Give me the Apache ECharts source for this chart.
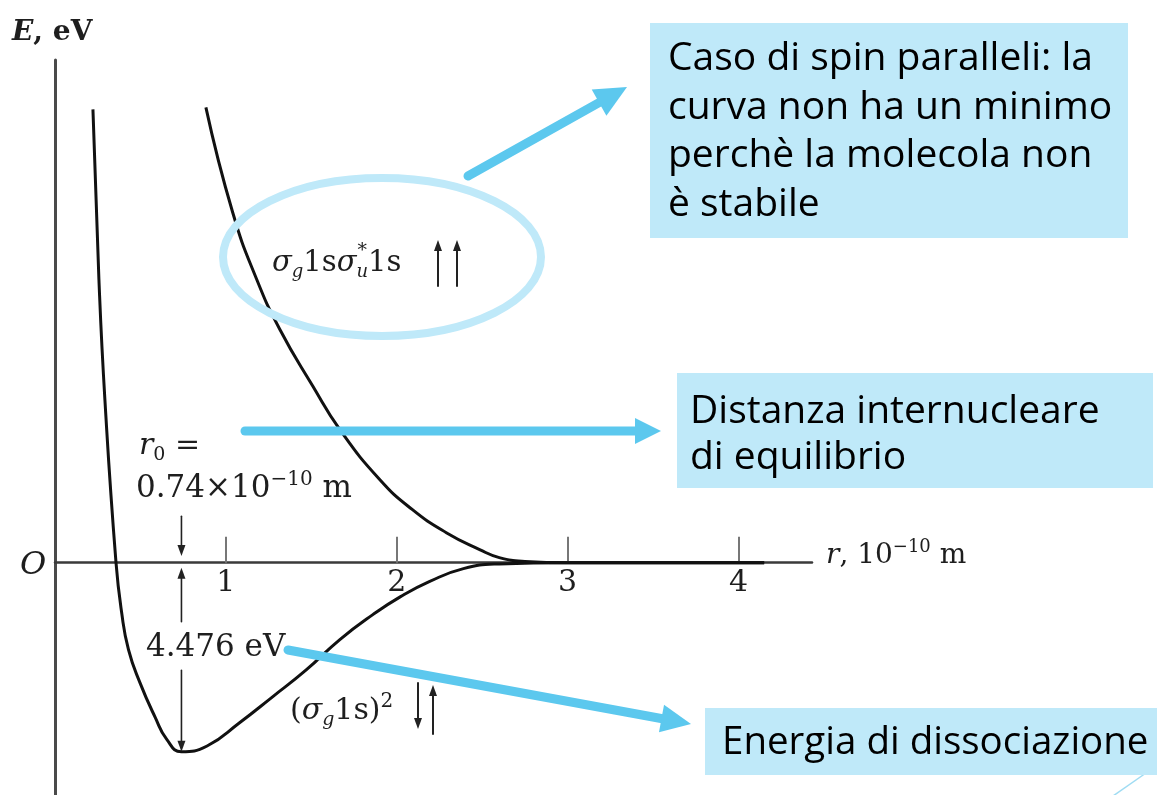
<!DOCTYPE html>
<html>
<head>
<meta charset="utf-8">
<script src="https://cdn.jsdelivr.net/npm/echarts@6/dist/echarts.min.js"></script>
<style>
  html, body { margin: 0; padding: 0; background: #ffffff; }
  #chart { width: 1157px; height: 795px; }
</style>
</head>
<body>
<div id="chart"></div>
<script>
// H2 potential energy E (eV) against internuclear distance r (1e-10 m)
const xTicks = [1, 2, 3, 4];
const xTickLabels = ['1', '2', '3', '4'];

// bonding state (σg1s)², antiparallel spins
const bondR = [0.222, 0.257, 0.292, 0.357, 0.39, 0.43, 0.497, 0.585, 0.655, 0.74, 0.89, 1.08, 1.275, 1.47, 1.667, 1.86, 2.02, 2.19, 2.39, 2.6, 3.0, 3.5, 4.15];
const bondE = [10.73, 6.71, 3.86, 0, -1.18, -2.06, -2.84, -3.65, -4.19, -4.476, -4.34, -3.79, -3.17, -2.54, -1.82, -1.23, -0.81, -0.45, -0.14, -0.03, 0, 0, 0];

// antibonding state σg1sσu*1s, parallel spins
const antiR = [0.883, 1.04, 1.18, 1.316, 1.51, 1.667, 1.90, 2.09, 2.29, 2.485, 2.6, 2.75, 3.0, 3.5, 4.15];
const antiE = [10.78, 8.29, 6.71, 5.52, 4.17, 3.15, 1.97, 1.26, 0.71, 0.31, 0.12, 0.03, 0, 0, 0];

const r0 = 0.74;                  // equilibrium distance
const dissociationEnergy = 4.476; // eV

const SERIF = "'DejaVu Serif', 'Liberation Serif', serif";
const SANS = "'Open Sans', 'Noto Sans', sans-serif";
const INK = '#1e1e1e';
const CALLOUT = '#5cc8ee';
const PALE = '#bfe9f9';

const chart = echarts.init(document.getElementById('chart'), null, { renderer: 'canvas' });

const pairs = (xs, ys) => xs.map((x, i) => [x, ys[i]]);

chart.setOption({
  backgroundColor: '#ffffff',
  animation: false,
  grid: { left: 55, top: 60, width: 757, height: 735, containLabel: false, outerBoundsMode: 'none' },
  xAxis: {
    type: 'value', min: 0, max: 4.43,
    axisLine: { onZero: true, lineStyle: { color: '#3a3a3a', width: 2.5 } },
    axisTick: { show: true, inside: true, length: 26, customValues: xTicks, lineStyle: { color: '#777', width: 2 } },
    axisLabel: { show: false },
    splitLine: { show: false }
  },
  yAxis: {
    type: 'value', min: -5.5, max: 11.9,
    axisLine: { show: true, lineStyle: { color: '#4a4a4a', width: 3 } },
    axisTick: { show: false },
    axisLabel: { show: false },
    splitLine: { show: false }
  },
  series: [
    {
      name: '(σg1s)²', type: 'line', data: pairs(bondR, bondE),
      smooth: 0.5, showSymbol: false, z: 3,
      lineStyle: { color: '#111', width: 3 }
    },
    {
      name: 'σg1sσu*1s', type: 'line', data: pairs(antiR, antiE),
      smooth: 0.5, showSymbol: false, z: 3,
      lineStyle: { color: '#111', width: 3 }
    }
  ]
});

// ---- annotation helpers ----
function arrow(x1, y1, x2, y2, width, headL, headW, color, z) {
  const dx = x2 - x1, dy = y2 - y1, L = Math.hypot(dx, dy);
  const ux = dx / L, uy = dy / L, px = -uy, py = ux;
  const bx = x2 - ux * headL, by = y2 - uy * headL;
  return [
    { type: 'line', z: z, shape: { x1: x1, y1: y1, x2: bx + ux, y2: by + uy },
      style: { stroke: color, lineWidth: width, lineCap: 'round' } },
    { type: 'polygon', z: z, shape: { points: [[x2, y2], [bx + px * headW / 2, by + py * headW / 2], [bx - px * headW / 2, by - py * headW / 2]] },
      style: { fill: color } }
  ];
}

function label(x, y, text, rich, align, z) {
  return {
    type: 'text', z: z || 20, x: x, y: y,
    style: { text: text, rich: rich, align: align || 'left', verticalAlign: 'middle', fill: INK, font: '28px ' + SERIF }
  };
}

function richSet(size) {
  return {
    n: { fontFamily: SERIF, fontSize: size, lineHeight: size * 1.25, fill: INK },
    b: { fontFamily: SERIF, fontSize: size, fontWeight: 'bold', lineHeight: size * 1.25, fill: INK },
    bi: { fontFamily: SERIF, fontSize: size, fontWeight: 'bold', fontStyle: 'italic', lineHeight: size * 1.25, fill: INK },
    i: { fontFamily: SERIF, fontSize: size, fontStyle: 'italic', lineHeight: size * 1.25, fill: INK },
    sub: { fontFamily: SERIF, fontSize: Math.round(size * 0.62), fontStyle: 'italic', verticalAlign: 'bottom', fill: INK },
    subn: { fontFamily: SERIF, fontSize: Math.round(size * 0.62), verticalAlign: 'bottom', fill: INK },
    sup: { fontFamily: SERIF, fontSize: Math.round(size * 0.66), verticalAlign: 'top', fill: INK }
  };
}

const measureCtx = document.createElement('canvas').getContext('2d');
function textWidth(str, font) {
  measureCtx.font = font;
  return measureCtx.measureText(str).width;
}

function callout(x, y, w, h, lines, tx, firstY, lh, size) {
  return [
    { type: 'rect', z: 30, shape: { x: x, y: y, width: w, height: h }, style: { fill: PALE } },
    { type: 'text', z: 31, x: tx, y: firstY - lh / 2,
      style: { text: lines.join('\n'), fill: '#000', font: size + 'px ' + SANS, lineHeight: lh, verticalAlign: 'top', align: 'left' } }
  ];
}

function drawAnnotations() {
  const px = (r, e) => chart.convertToPixel({ gridIndex: 0 }, [r, e]);
  const g = [];

  // tick labels under the r axis
  xTicks.forEach((t, i) => {
    const p = px(t, 0);
    g.push({ type: 'text', z: 20, x: p[0], y: p[1] + 21,
             style: { text: xTickLabels[i], font: '30px ' + SERIF, fill: INK, align: 'center', verticalAlign: 'middle' } });
  });

  // r0 marker arrows and depth of the well
  const xr = px(r0, 0)[0];
  const yTopA = px(r0, 1.1)[1], yAxisAbove = px(r0, 0.16)[1];
  const yBelowAxis = px(r0, -0.12)[1], yUpStart = px(r0, -1.4)[1];
  const yDownStart = px(r0, -2.55)[1], yMin = px(r0, -dissociationEnergy)[1];
  g.push(...arrow(xr, yTopA, xr, yAxisAbove, 1.6, 11, 8, '#222', 20));
  g.push(...arrow(xr, yUpStart, xr, yBelowAxis, 1.6, 11, 8, '#222', 20));
  g.push(...arrow(xr, yDownStart, xr, yMin, 1.6, 11, 8, '#222', 20));

  // axis titles
  g.push(label(12, 33, '{bi|E}{b|, eV}', richSet(28)));
  g.push(label(20, 566, '{i|O}', richSet(32)));
  g.push(label(826, 556, '{i|r}{n|, 10}{sup|−10}{n| m}', richSet(28)));

  // r0 and depth labels
  g.push(label(139, 446, '{i|r}{subn|0}{n| =}', richSet(30)));
  g.push(label(136, 489, '{n|0.74×10}{sup|−10}{n| m}', richSet(31)));
  g.push(label(146, 648, '{n|' + dissociationEnergy.toFixed(3) + ' eV}', richSet(31)));

  // antibonding label: σg 1s σ(*,u) 1s with the star stacked over the u
  const rs = richSet(29);
  const xs = 272, ys = 263;
  g.push(label(xs, ys, '{i|σ}{sub|g}{n|1s}{i|σ}{sub|u}{n|1s}', rs));
  const wBefore = textWidth('σ', 'italic 29px ' + SERIF) + textWidth('g', 'italic 18px ' + SERIF)
                + textWidth('1s', '29px ' + SERIF) + textWidth('σ', 'italic 29px ' + SERIF);
  g.push({ type: 'text', z: 20, x: xs + wBefore + 1, y: ys - 12,
           style: { text: '*', font: '19px ' + SERIF, fill: INK, align: 'left', verticalAlign: 'middle' } });
  g.push(...arrow(438, 286, 438, 240, 2, 11, 8, '#222', 20));
  g.push(...arrow(457, 286, 457, 240, 2, 11, 8, '#222', 20));

  g.push(label(290, 711, '{n|(}{i|σ}{sub|g}{n|1s)}{sup|2}', richSet(30)));
  g.push(...arrow(418, 683, 418, 729, 2, 11, 8, '#222', 20));
  g.push(...arrow(433, 734, 433, 685, 2, 11, 8, '#222', 20));

  // highlight ring around the antibonding label
  g.push({ type: 'ellipse', z: 25, shape: { cx: 382, cy: 257, rx: 159, ry: 79 },
           style: { fill: 'none', stroke: PALE, lineWidth: 8 } });

  // callout arrows
  g.push(...arrow(468, 176, 627, 87, 9, 32, 30, CALLOUT, 26));
  g.push(...arrow(245, 431, 661, 431, 9, 26, 26, CALLOUT, 26));
  g.push(...arrow(288, 650, 691, 724, 9, 30, 28, CALLOUT, 26));
  g.push({ type: 'line', z: 26, shape: { x1: 1113, y1: 796, x2: 1146, y2: 773 },
           style: { stroke: '#9fdcf3', lineWidth: 1.5 } });

  // callout boxes
  g.push(...callout(650, 23, 478, 215,
    ['Caso di spin paralleli: la', 'curva non ha un minimo', 'perchè la molecola non', 'è stabile'],
    668, 59, 48.5, 39));
  g.push(...callout(677, 373, 476, 115, ['Distanza internucleare', 'di equilibrio'], 690, 412, 46, 39));
  g.push(...callout(705, 708, 452, 67, ['Energia di dissociazione'], 722, 743, 46, 38.5));

  chart.setOption({ graphic: { elements: g } });
}

drawAnnotations();
</script>
</body>
</html>
